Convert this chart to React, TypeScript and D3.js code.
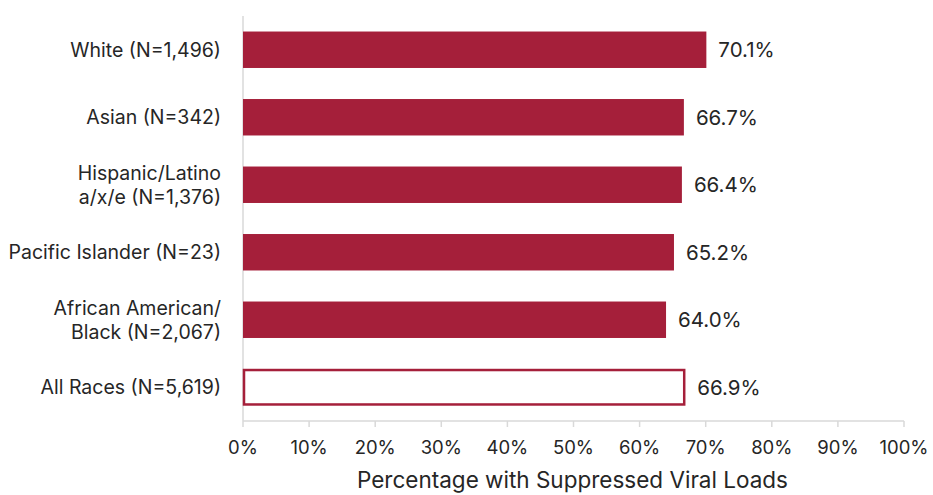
import React from "react";
import * as d3 from "d3";

const categories: string[][] = [
  ["White (N=1,496)"],
  ["Asian (N=342)"],
  ["Hispanic/Latino", "a/x/e (N=1,376)"],
  ["Pacific Islander (N=23)"],
  ["African American/", "Black (N=2,067)"],
  ["All Races (N=5,619)"],
];
const values: number[] = [70.1, 66.7, 66.4, 65.2, 64.0, 66.9];
const outlined: boolean[] = [false, false, false, false, false, true];
const xTicks: number[] = [0, 10, 20, 30, 40, 50, 60, 70, 80, 90, 100];
const xTitle = "Percentage with Suppressed Viral Loads";

const W = 933;
const H = 495;
const M = { left: 243, right: 29, top: 16, bottom: 74 };
const RED = "#A51F3A";
const TEXT = "#262626";
const GRID = "#d9d9d9";
const FONT = "Inter, 'Open Sans', sans-serif";

export default function App() {
  const x = d3.scaleLinear().domain([0, 100]).range([M.left, W - M.right]);
  const idx = categories.map((_, i) => String(i));
  const y = d3.scaleBand().domain(idx).range([M.top, H - M.bottom]).paddingInner(0.46).paddingOuter(0.23);
  const axisY = H - M.bottom;
  return (
    <svg width={W} height={H} style={{ position: "absolute", left: 0, top: 0, fontFamily: FONT }}>
      <rect x={0} y={0} width={W} height={H} fill="#fff" />
      <line x1={x(0)} x2={x(0)} y1={M.top} y2={axisY} stroke={GRID} strokeWidth={1.5} />
      <line x1={x(0)} x2={x(100)} y1={axisY} y2={axisY} stroke={GRID} strokeWidth={1.5} />
      {xTicks.map((t) => (
        <g key={t}>
          <line x1={x(t)} x2={x(t)} y1={axisY} y2={axisY + 6} stroke={GRID} strokeWidth={1.5} />
          <text x={x(t)} y={axisY + 26} dy="0.36em" textAnchor="middle" fontSize={18.5} fill={TEXT}>
            {t + "%"}
          </text>
        </g>
      ))}
      {values.map((v, i) => {
        const by = y(String(i))!;
        const bh = y.bandwidth();
        const o = outlined[i];
        return (
          <g key={i}>
            <rect
              x={o ? x(0) + 1 : x(0)}
              y={o ? by + 1 : by}
              width={o ? x(v) - x(0) - 2 : x(v) - x(0)}
              height={o ? bh - 2 : bh}
              fill={o ? "#fff" : RED}
              stroke={o ? RED : "none"}
              strokeWidth={o ? 2.5 : 0}
            />
            <text x={x(v) + 12} y={by + bh / 2} dy="0.36em" fontSize={20.5} fill={TEXT}>
              {v.toFixed(1) + "%"}
            </text>
            {categories[i].map((line, j) => (
              <text
                key={j}
                x={221}
                y={by + bh / 2 + (j - (categories[i].length - 1) / 2) * 24}
                dy="0.36em"
                textAnchor="end"
                fontSize={19.5}
                fill={TEXT}
              >
                {line}
              </text>
            ))}
          </g>
        );
      })}
      <text x={(x(0) + x(100)) / 2 - 1} y={H - 15} dy="0.36em" textAnchor="middle" fontSize={22.5} fill={TEXT}>
        {xTitle}
      </text>
    </svg>
  );
}
